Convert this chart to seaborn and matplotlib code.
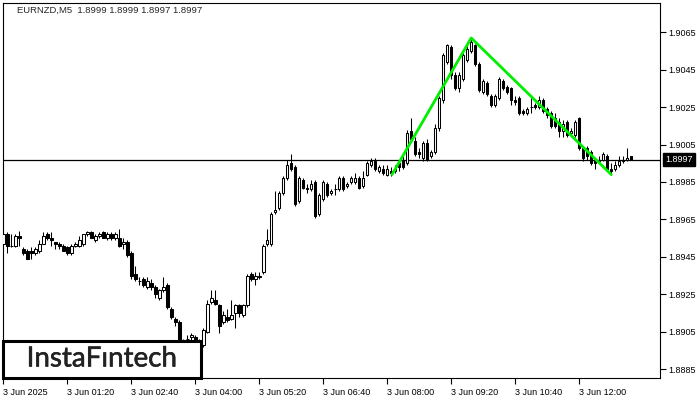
import numpy as np
import matplotlib
matplotlib.use('Agg')
import matplotlib.pyplot as plt
import matplotlib.transforms as mtransforms
import matplotlib.patheffects as pe
from matplotlib.patches import Rectangle
import seaborn as sns

# EURNZD M5 candles, 3 Jun 2025 00:00 .. 13:05
opens = [
    1.8952, 1.8957, 1.8951, 1.8951, 1.8956, 1.8949, 1.8948, 1.8948,
    1.8947, 1.8948, 1.8952, 1.8957, 1.8955, 1.8953, 1.8952, 1.8951,
    1.8950, 1.8947, 1.8951, 1.8951, 1.8952, 1.8957, 1.8958, 1.8954,
    1.8956, 1.8958, 1.8955, 1.8957, 1.8955, 1.8955, 1.8952, 1.8953,
    1.8947, 1.8936, 1.8932, 1.8933, 1.8929, 1.8931, 1.8929, 1.8923,
    1.8927, 1.8930, 1.8917, 1.8912, 1.8910, 1.8900, 1.8901, 1.8902,
    1.8902, 1.8900, 1.8898, 1.8905, 1.8921, 1.8922, 1.8919, 1.8910,
    1.8913, 1.8912, 1.8915, 1.8919, 1.8914, 1.8919, 1.8936, 1.8933,
    1.8934, 1.8937, 1.8952, 1.8952, 1.8969, 1.8971, 1.8979, 1.8987,
    1.8995, 1.8993, 1.8975, 1.8986, 1.8982, 1.8981, 1.8985, 1.8968,
    1.8976, 1.8984, 1.8979, 1.8981, 1.8981, 1.8987, 1.8983, 1.8985,
    1.8985, 1.8987, 1.8983, 1.8989, 1.8994, 1.8996, 1.8991, 1.8992,
    1.8989, 1.8991, 1.8991, 1.8995, 1.8997, 1.8995, 1.9012, 1.9007,
    1.9001, 1.8998, 1.9006, 1.8999, 1.9001, 1.9014, 1.9029, 1.9049,
    1.9057, 1.9042, 1.9035, 1.9040, 1.9050, 1.9055, 1.9058, 1.9048,
    1.9033, 1.9038, 1.9031, 1.9026, 1.9030, 1.9039, 1.9036, 1.9035,
    1.9029, 1.9030, 1.9023, 1.9022, 1.9025, 1.9026, 1.9025, 1.9029,
    1.9024, 1.9022, 1.9019, 1.9017, 1.9012, 1.9017, 1.9011, 1.9010,
    1.9019, 1.9003, 1.9003, 1.9001, 1.8996, 1.8996, 1.8997, 1.8999,
    1.8992, 1.8992, 1.8994, 1.8997, 1.8997, 1.8999]
highs = [
    1.8958, 1.8958, 1.8957, 1.8957, 1.8959, 1.8950, 1.8949, 1.8950,
    1.8950, 1.8954, 1.8958, 1.8958, 1.8958, 1.8953, 1.8953, 1.8952,
    1.8951, 1.8952, 1.8953, 1.8956, 1.8957, 1.8959, 1.8959, 1.8957,
    1.8958, 1.8959, 1.8958, 1.8958, 1.8958, 1.8960, 1.8955, 1.8954,
    1.8948, 1.8940, 1.8934, 1.8934, 1.8934, 1.8933, 1.8930, 1.8928,
    1.8934, 1.8931, 1.8918, 1.8913, 1.8911, 1.8901, 1.8903, 1.8904,
    1.8903, 1.8901, 1.8907, 1.8922, 1.8927, 1.8927, 1.8920, 1.8916,
    1.8917, 1.8922, 1.8920, 1.8920, 1.8920, 1.8936, 1.8937, 1.8937,
    1.8937, 1.8952, 1.8960, 1.8969, 1.8980, 1.8980, 1.8988, 1.8997,
    1.9000, 1.8994, 1.8988, 1.8987, 1.8984, 1.8986, 1.8986, 1.8979,
    1.8986, 1.8985, 1.8981, 1.8984, 1.8988, 1.8988, 1.8985, 1.8988,
    1.8990, 1.8988, 1.8991, 1.8996, 1.8998, 1.8998, 1.8994, 1.8994,
    1.8994, 1.8993, 1.8994, 1.8996, 1.8999, 1.9013, 1.9019, 1.9009,
    1.9003, 1.9007, 1.9008, 1.9002, 1.9016, 1.9031, 1.9054, 1.9059,
    1.9058, 1.9044, 1.9044, 1.9054, 1.9058, 1.9062, 1.9059, 1.9049,
    1.9040, 1.9039, 1.9032, 1.9032, 1.9041, 1.9040, 1.9037, 1.9036,
    1.9031, 1.9031, 1.9024, 1.9025, 1.9030, 1.9027, 1.9031, 1.9030,
    1.9025, 1.9023, 1.9022, 1.9019, 1.9018, 1.9018, 1.9014, 1.9018,
    1.9020, 1.9004, 1.9004, 1.9002, 1.8997, 1.8999, 1.9001, 1.9000,
    1.8995, 1.8996, 1.8999, 1.8999, 1.9003, 1.8999]
lows = [
    1.8951, 1.8947, 1.8950, 1.8950, 1.8951, 1.8946, 1.8944, 1.8944,
    1.8946, 1.8947, 1.8952, 1.8954, 1.8951, 1.8949, 1.8949, 1.8948,
    1.8946, 1.8946, 1.8950, 1.8950, 1.8951, 1.8956, 1.8955, 1.8953,
    1.8955, 1.8955, 1.8954, 1.8954, 1.8954, 1.8950, 1.8949, 1.8945,
    1.8933, 1.8932, 1.8930, 1.8929, 1.8928, 1.8927, 1.8923, 1.8922,
    1.8926, 1.8917, 1.8912, 1.8908, 1.8899, 1.8898, 1.8899, 1.8900,
    1.8899, 1.8896, 1.8897, 1.8904, 1.8920, 1.8919, 1.8904, 1.8909,
    1.8910, 1.8911, 1.8907, 1.8913, 1.8913, 1.8918, 1.8932, 1.8930,
    1.8933, 1.8936, 1.8951, 1.8951, 1.8968, 1.8970, 1.8978, 1.8986,
    1.8991, 1.8972, 1.8974, 1.8981, 1.8979, 1.8980, 1.8966, 1.8967,
    1.8975, 1.8977, 1.8978, 1.8978, 1.8980, 1.8980, 1.8982, 1.8984,
    1.8984, 1.8981, 1.8982, 1.8988, 1.8993, 1.8991, 1.8990, 1.8989,
    1.8988, 1.8988, 1.8990, 1.8991, 1.8992, 1.8994, 1.9007, 1.8999,
    1.8998, 1.8996, 1.8996, 1.8998, 1.9000, 1.9012, 1.9027, 1.9048,
    1.9040, 1.9034, 1.9033, 1.9039, 1.9049, 1.9054, 1.9047, 1.9033,
    1.9032, 1.9031, 1.9025, 1.9025, 1.9029, 1.9034, 1.9032, 1.9026,
    1.9026, 1.9021, 1.9021, 1.9021, 1.9022, 1.9024, 1.9024, 1.9022,
    1.9019, 1.9014, 1.9014, 1.9009, 1.9009, 1.9009, 1.9010, 1.9009,
    1.9002, 1.8996, 1.8997, 1.8994, 1.8992, 1.8995, 1.8996, 1.8991,
    1.8989, 1.8991, 1.8993, 1.8995, 1.8996, 1.8997]
closes = [
    1.8957, 1.8951, 1.8951, 1.8956, 1.8955, 1.8947, 1.8944, 1.8947,
    1.8949, 1.8952, 1.8956, 1.8955, 1.8954, 1.8952, 1.8951, 1.8948,
    1.8947, 1.8951, 1.8952, 1.8954, 1.8957, 1.8958, 1.8955, 1.8956,
    1.8957, 1.8955, 1.8957, 1.8955, 1.8957, 1.8951, 1.8953, 1.8946,
    1.8935, 1.8933, 1.8932, 1.8930, 1.8932, 1.8929, 1.8925, 1.8927,
    1.8929, 1.8918, 1.8913, 1.8910, 1.8900, 1.8899, 1.8901, 1.8903,
    1.8900, 1.8897, 1.8906, 1.8920, 1.8923, 1.8920, 1.8908, 1.8914,
    1.8911, 1.8914, 1.8919, 1.8915, 1.8919, 1.8935, 1.8933, 1.8935,
    1.8935, 1.8951, 1.8954, 1.8968, 1.8970, 1.8979, 1.8987, 1.8994,
    1.8992, 1.8973, 1.8987, 1.8982, 1.8981, 1.8984, 1.8967, 1.8978,
    1.8985, 1.8978, 1.8980, 1.8981, 1.8987, 1.8981, 1.8984, 1.8987,
    1.8987, 1.8982, 1.8987, 1.8995, 1.8996, 1.8992, 1.8993, 1.8990,
    1.8992, 1.8990, 1.8992, 1.8993, 1.8993, 1.9011, 1.9008, 1.9000,
    1.9000, 1.9006, 1.8997, 1.9001, 1.9014, 1.9030, 1.9053, 1.9058,
    1.9042, 1.9035, 1.9042, 1.9053, 1.9056, 1.9060, 1.9048, 1.9034,
    1.9039, 1.9032, 1.9026, 1.9031, 1.9040, 1.9035, 1.9033, 1.9029,
    1.9028, 1.9022, 1.9022, 1.9024, 1.9025, 1.9025, 1.9029, 1.9023,
    1.9021, 1.9015, 1.9015, 1.9012, 1.9016, 1.9010, 1.9012, 1.9017,
    1.9003, 1.8998, 1.8999, 1.8995, 1.8995, 1.8997, 1.9000, 1.8992,
    1.8991, 1.8994, 1.8996, 1.8996, 1.8998, 1.8997]

tick_labels = ['3 Jun 2025', '3 Jun 01:20', '3 Jun 02:40', '3 Jun 04:00',
               '3 Jun 05:20', '3 Jun 06:40', '3 Jun 08:00', '3 Jun 09:20',
               '3 Jun 10:40', '3 Jun 12:00']
price_ticks = [1.8885, 1.8905, 1.8925, 1.8945, 1.8965, 1.8985,
               1.9005, 1.9025, 1.9045, 1.9065]

# pattern line (bar index, price)
pattern_x = [97.2, 117, 152]
pattern_y = [1.8989, 1.9062, 1.8989]
last_price = 1.8997
title = 'EURNZD,M5  1.8999 1.8999 1.8997 1.8997'

sns.set_style('white')
plt.rcParams['font.family'] = ['Liberation Sans', 'DejaVu Sans']

o = np.array(opens)
h = np.array(highs)
l = np.array(lows)
c = np.array(closes)
idx = np.arange(len(o))

W, H = 700, 400
fig = plt.figure(figsize=(7, 4), dpi=100)
ax = fig.add_axes([2.7 / W, 22 / H, (660 - 2.7) / W, 375 / H])

# candles
up = c > o
down = c < o
flat = c == o
lo = np.minimum(o, c)
body = np.abs(c - o)
ax.vlines(idx, l, h, color='black', lw=0.75, zorder=2)
ax.bar(idx[up], body[up], bottom=lo[up], width=0.62, color='white',
       edgecolor='black', linewidth=0.75, zorder=3)
ax.bar(idx[down], body[down], bottom=lo[down], width=0.62, color='black',
       edgecolor='black', linewidth=0.75, zorder=3)
ax.hlines(o[flat], idx[flat] - 0.35, idx[flat] + 0.35, color='black', lw=0.75, zorder=3)

ax.axhline(last_price, color='black', lw=0.9, zorder=1)
sns.lineplot(x=pattern_x, y=pattern_y, sort=False, estimator=None,
             color='#00ee00', lw=2, ax=ax, zorder=4)

ax.set_xlim(-0.15, 164.2)
ax.set_ylim(1.88802, 1.90807)

ax.yaxis.tick_right()
ax.set_yticks(price_ticks)
ax.set_yticklabels([f'{p:.4f}' for p in price_ticks])
ax.set_xticks(np.arange(0, len(o), 16))
ax.set_xticklabels(tick_labels, ha='left')
ax.tick_params(axis='y', direction='out', length=4, width=0.8, labelsize=6.5,
               pad=2, colors='black', right=True, left=False)
ax.tick_params(axis='x', direction='out', length=4, width=0.8, labelsize=6.5,
               pad=3, colors='black', bottom=True)
for s in ax.spines.values():
    s.set_color('black')
    s.set_linewidth(0.8)

# current price marker
trans = mtransforms.blended_transform_factory(ax.transAxes, ax.transData)
ax.text(1.008, last_price, f'{last_price:.4f}', transform=trans, va='center',
        ha='left', color='white', fontsize=6.5,
        bbox=dict(boxstyle='square,pad=0.2', fc='black', ec='black'))

fig.text(17 / W, 1 - 10 / H, title, fontsize=6.8, va='center', ha='left')

# logo
fig.add_artist(Rectangle((2.7 / W, 22 / H), (201 - 2.7) / W, 37.3 / H,
                         transform=fig.transFigure, fc='white', ec='black',
                         lw=2.2, zorder=10))
fig.text(102 / W, (400 - 358.5) / H, 'InstaF\u0131ntech', fontsize=20,
         ha='center', va='center', color='#222222', family='Lato', zorder=11,
         path_effects=[pe.withStroke(linewidth=0.4, foreground='#222222')])

fig.savefig('out.png', dpi=100)
